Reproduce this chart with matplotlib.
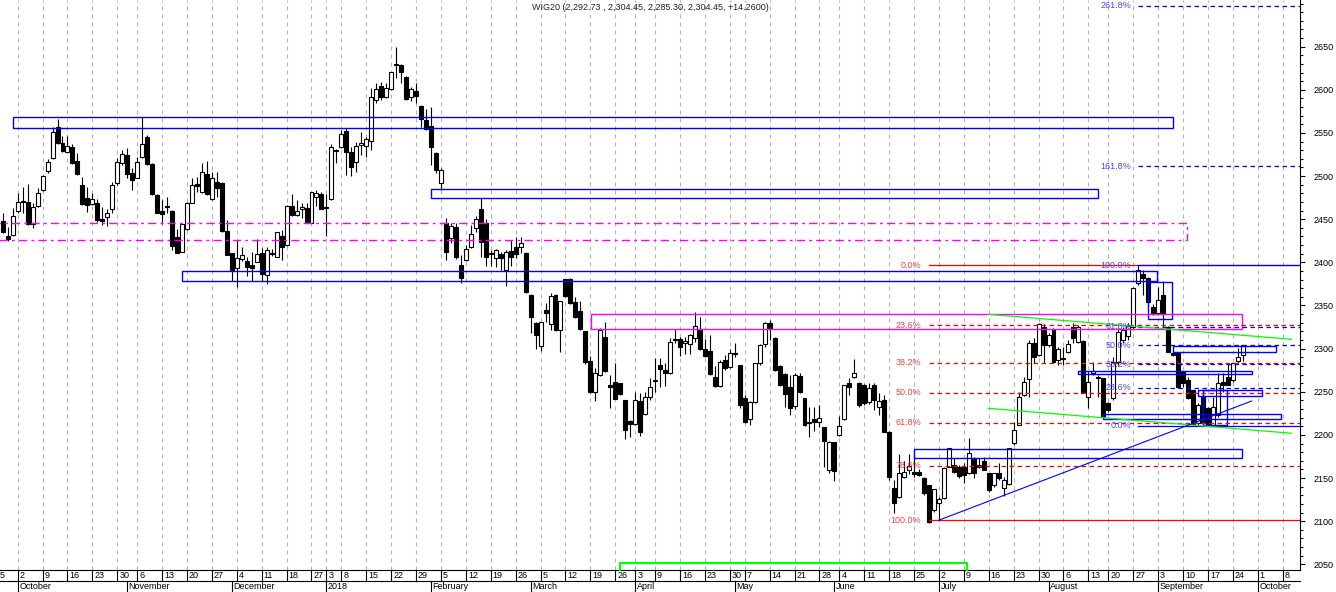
import numpy as np
import pandas as pd
import matplotlib
matplotlib.use("Agg")
import matplotlib.pyplot as plt
import matplotlib.transforms as mtransforms
from matplotlib.patches import Rectangle
from matplotlib.lines import Line2D
from matplotlib.ticker import FixedLocator, MultipleLocator

plt.rcParams['font.family'] = ['Liberation Sans', 'DejaVu Sans']

# --- dane ---
first_day = '2017-09-27'
holidays = ['2017-11-01', '2017-12-25', '2017-12-26', '2018-01-01', '2018-01-02',
            '2018-03-30', '2018-04-02', '2018-05-01', '2018-05-03', '2018-05-31',
            '2018-08-15']

opens = [2447.9, 2430.6, 2431.3, 2459.5, 2471.0, 2469.6, 2444.5, 2465.7, 2483.5, 2505.9,
         2520.6, 2556.5, 2538.0, 2528.3, 2533.7, 2517.5, 2489.7, 2474.2, 2467.3, 2468.4,
         2450.3, 2452.2, 2462.2, 2491.6, 2514.8, 2524.4, 2503.6, 2498.2, 2521.7, 2545.7,
         2513.6, 2478.1, 2459.5, 2464.2, 2459.9, 2429.0, 2412.4, 2438.3, 2469.2, 2490.9,
         2482.0, 2502.4, 2473.0, 2493.6, 2491.6, 2436.3, 2410.5, 2393.1, 2403.5, 2401.6,
         2396.9, 2400.8, 2410.5, 2385.4, 2410.0, 2406.6, 2430.9, 2420.1, 2465.3, 2454.9,
         2461.5, 2462.6, 2446.0, 2476.2, 2478.9, 2463.5, 2473.0, 2530.3, 2534.1, 2552.3,
         2528.3, 2516.7, 2536.0, 2534.9, 2541.1, 2588.2, 2604.4, 2592.1, 2600.6, 2630.0,
         2628.8, 2615.3, 2592.1, 2599.0, 2581.3, 2565.0, 2558.0, 2526.4, 2492.4, 2445.3,
         2427.9, 2441.4, 2397.0, 2402.8, 2418.2, 2439.5, 2461.9, 2445.3, 2411.3, 2404.7,
         2409.7, 2391.2, 2413.2, 2417.4, 2417.4, 2411.3, 2362.2, 2329.3, 2303.5, 2344.8,
         2328.2, 2362.2, 2321.6, 2380.3, 2380.3, 2353.7, 2343.6, 2320.5, 2285.7, 2250.1,
         2269.4, 2313.9, 2257.9, 2261.7, 2259.8, 2240.5, 2216.1, 2212.3, 2239.3, 2223.8,
         2244.0, 2263.0, 2281.0, 2275.2, 2271.4, 2310.8, 2310.8, 2306.9, 2305.4, 2312.0,
         2322.4, 2299.2, 2297.3, 2267.5, 2257.1, 2286.8, 2278.3, 2294.6, 2281.0, 2242.4,
         2218.5, 2237.8, 2283.0, 2305.4, 2329.3, 2312.7, 2279.9, 2270.6, 2255.9, 2233.5,
         2268.3, 2242.4, 2214.6, 2218.1, 2215.4, 2208.8, 2159.3, 2191.4, 2199.9, 2218.0,
         2259.8, 2267.5, 2260.6, 2257.5, 2238.5, 2257.9, 2232.7, 2240.5, 2203.7, 2138.0,
         2128.4, 2151.6, 2159.3, 2157.4, 2157.4, 2149.7, 2141.9, 2112.9, 2120.7, 2126.5,
         2163.2, 2165.1, 2163.2, 2163.2, 2155.4, 2172.8, 2165.1, 2169.7, 2155.4, 2141.9,
         2155.4, 2138.0, 2143.0, 2190.2, 2211.5, 2246.0, 2264.4, 2306.1, 2292.6, 2325.5,
         2304.2, 2321.6, 2286.8, 2287.6, 2296.5, 2325.5, 2308.1, 2309.2, 2244.3, 2271.4,
         2267.5, 2265.6, 2237.4, 2242.4, 2285.0, 2310.0, 2315.0, 2325.5, 2375.7, 2387.0,
         2382.0, 2348.6, 2341.0, 2362.2, 2325.5, 2294.6, 2294.6, 2273.3, 2263.6, 2252.1,
         2213.4, 2244.3, 2230.8, 2211.5, 2223.1, 2261.7, 2267.5, 2263.6, 2285.7, 2292.73]
highs = [2456.8, 2441.4, 2462.6, 2480.8, 2487.8, 2490.5, 2468.4, 2485.8, 2501.3, 2519.4,
         2556.9, 2566.2, 2546.5, 2546.5, 2537.2, 2526.4, 2499.4, 2487.8, 2480.0, 2473.5,
         2464.6, 2461.5, 2492.8, 2520.6, 2530.3, 2532.2, 2509.0, 2522.5, 2568.1, 2547.6,
         2514.8, 2478.9, 2472.3, 2476.2, 2460.5, 2438.3, 2445.0, 2470.3, 2497.4, 2499.4,
         2514.8, 2517.9, 2505.2, 2505.2, 2493.6, 2449.1, 2411.0, 2425.9, 2418.2, 2406.6,
         2411.6, 2426.7, 2416.3, 2417.4, 2415.0, 2435.3, 2437.5, 2466.2, 2478.9, 2472.3,
         2468.4, 2468.4, 2481.6, 2483.9, 2481.6, 2478.9, 2537.2, 2531.0, 2553.4, 2555.4,
         2534.1, 2539.9, 2550.7, 2545.7, 2601.7, 2607.5, 2609.5, 2607.5, 2621.0, 2650.0,
         2629.5, 2616.0, 2603.7, 2607.5, 2582.0, 2577.4, 2580.5, 2528.3, 2509.8, 2451.0,
         2445.3, 2446.0, 2408.5, 2420.1, 2443.3, 2453.8, 2474.2, 2449.9, 2414.3, 2415.1,
         2412.4, 2414.3, 2425.9, 2429.8, 2429.8, 2412.0, 2363.0, 2331.3, 2331.3, 2352.5,
         2364.1, 2363.0, 2355.6, 2381.0, 2381.5, 2360.2, 2355.2, 2321.0, 2291.9, 2277.2,
         2323.5, 2330.5, 2269.4, 2283.0, 2260.6, 2241.0, 2216.8, 2250.1, 2248.2, 2249.4,
         2265.6, 2288.8, 2288.8, 2283.0, 2312.0, 2322.4, 2313.9, 2313.9, 2317.0, 2342.9,
         2337.1, 2310.8, 2315.8, 2280.3, 2286.8, 2292.6, 2299.2, 2306.1, 2281.5, 2246.3,
         2239.7, 2283.5, 2305.5, 2331.3, 2333.2, 2313.2, 2281.0, 2271.4, 2269.4, 2271.4,
         2271.4, 2243.0, 2232.7, 2232.7, 2234.7, 2209.5, 2192.8, 2192.0, 2221.9, 2258.3,
         2265.6, 2287.6, 2261.7, 2259.0, 2260.0, 2259.8, 2248.2, 2246.3, 2204.5, 2147.7,
         2177.9, 2169.5, 2177.9, 2177.9, 2161.0, 2151.6, 2142.5, 2137.5, 2128.4, 2163.2,
         2185.0, 2172.8, 2165.1, 2167.0, 2196.0, 2174.8, 2172.8, 2174.8, 2156.0, 2156.0,
         2167.0, 2151.6, 2185.0, 2215.4, 2250.1, 2267.5, 2310.0, 2312.0, 2329.5, 2328.6,
         2317.7, 2323.5, 2302.3, 2302.3, 2310.0, 2329.4, 2327.0, 2309.8, 2274.1, 2284.9,
         2269.4, 2266.2, 2238.5, 2290.7, 2323.5, 2325.0, 2330.0, 2372.0, 2396.6, 2391.0,
         2383.0, 2352.0, 2371.0, 2378.4, 2326.0, 2296.5, 2296.5, 2273.8, 2267.5, 2252.5,
         2236.6, 2252.1, 2232.7, 2244.3, 2271.4, 2271.4, 2283.0, 2283.8, 2300.4, 2304.45]
lows = [2433.6, 2425.2, 2431.0, 2456.8, 2456.8, 2443.3, 2440.2, 2464.6, 2482.7, 2504.0,
        2519.4, 2537.2, 2527.5, 2527.5, 2514.0, 2501.3, 2466.5, 2458.8, 2466.5, 2447.2,
        2443.3, 2442.6, 2456.8, 2489.7, 2512.9, 2497.4, 2483.9, 2497.4, 2520.6, 2512.9,
        2478.1, 2456.8, 2444.5, 2456.8, 2414.0, 2410.8, 2411.6, 2437.5, 2468.4, 2482.0,
        2480.8, 2478.1, 2472.3, 2476.2, 2435.6, 2408.0, 2378.4, 2371.8, 2402.0, 2384.2,
        2378.4, 2400.0, 2378.8, 2374.9, 2407.4, 2405.8, 2402.7, 2419.4, 2453.7, 2454.1,
        2451.0, 2445.2, 2445.2, 2465.3, 2461.5, 2431.0, 2472.3, 2514.8, 2532.2, 2501.3,
        2500.5, 2505.2, 2524.4, 2522.5, 2530.3, 2585.1, 2588.2, 2590.9, 2599.8, 2614.1,
        2607.5, 2588.2, 2587.4, 2584.3, 2557.3, 2553.4, 2512.9, 2504.0, 2483.9, 2402.8,
        2422.1, 2403.5, 2376.5, 2401.6, 2416.3, 2435.6, 2406.6, 2395.8, 2395.8, 2395.0,
        2391.2, 2373.0, 2395.8, 2404.7, 2410.5, 2364.9, 2317.7, 2299.2, 2297.7, 2331.3,
        2321.6, 2321.0, 2296.5, 2360.2, 2352.0, 2335.1, 2321.6, 2282.2, 2249.0, 2239.7,
        2268.7, 2273.3, 2231.6, 2241.2, 2246.3, 2194.9, 2198.0, 2211.5, 2199.1, 2223.0,
        2240.5, 2250.1, 2255.9, 2256.7, 2270.2, 2306.1, 2291.9, 2293.8, 2293.8, 2308.1,
        2298.4, 2290.7, 2269.4, 2255.2, 2255.9, 2275.2, 2277.2, 2290.7, 2230.8, 2213.4,
        2211.5, 2236.6, 2281.0, 2301.5, 2310.0, 2274.1, 2257.1, 2232.0, 2223.1, 2229.6,
        2248.2, 2210.3, 2198.0, 2205.0, 2209.5, 2163.2, 2155.4, 2146.9, 2198.7, 2217.3,
        2246.3, 2265.6, 2232.0, 2235.0, 2236.0, 2228.9, 2223.1, 2203.0, 2147.7, 2109.8,
        2127.2, 2150.0, 2155.0, 2151.6, 2152.0, 2130.3, 2098.3, 2111.0, 2101.4, 2126.0,
        2162.4, 2156.2, 2149.7, 2144.6, 2155.0, 2149.7, 2162.0, 2159.0, 2134.2, 2140.0,
        2147.7, 2129.2, 2141.9, 2188.3, 2211.0, 2245.0, 2244.3, 2283.8, 2291.0, 2283.0,
        2302.3, 2283.8, 2281.0, 2281.0, 2294.6, 2306.1, 2306.0, 2248.0, 2230.8, 2269.4,
        2244.3, 2219.2, 2227.0, 2240.5, 2281.0, 2306.0, 2310.0, 2323.0, 2374.0, 2362.0,
        2352.0, 2338.5, 2339.0, 2323.0, 2296.5, 2291.5, 2254.0, 2256.0, 2241.6, 2211.5,
        2211.5, 2212.7, 2210.3, 2210.7, 2221.2, 2250.0, 2257.5, 2261.7, 2283.0, 2285.30]
closes = [2434.8, 2426.7, 2453.7, 2470.3, 2469.6, 2444.5, 2463.8, 2480.0, 2500.1, 2515.9,
          2551.5, 2538.0, 2529.0, 2534.9, 2514.8, 2502.0, 2468.0, 2466.5, 2473.0, 2448.7,
          2448.3, 2456.8, 2489.3, 2516.7, 2525.2, 2502.0, 2495.1, 2516.0, 2537.2, 2514.0,
          2478.9, 2457.6, 2455.7, 2465.0, 2419.3, 2411.2, 2444.5, 2468.4, 2489.7, 2489.0,
          2504.4, 2479.2, 2497.4, 2486.6, 2436.7, 2408.5, 2391.1, 2404.7, 2408.5, 2395.0,
          2393.8, 2409.3, 2386.5, 2414.3, 2411.0, 2434.8, 2417.4, 2465.7, 2454.9, 2459.5,
          2463.8, 2446.0, 2481.2, 2480.8, 2461.9, 2464.5, 2534.1, 2529.0, 2548.4, 2528.3,
          2510.9, 2534.9, 2538.7, 2542.6, 2591.3, 2600.6, 2591.3, 2601.7, 2620.3, 2628.8,
          2621.0, 2589.0, 2600.6, 2592.8, 2565.8, 2554.2, 2534.1, 2507.0, 2507.0, 2412.4,
          2442.2, 2406.6, 2382.3, 2415.1, 2432.5, 2449.9, 2424.0, 2406.6, 2409.3, 2414.3,
          2405.5, 2412.4, 2406.6, 2409.3, 2422.1, 2365.5, 2336.3, 2315.8, 2330.5, 2340.9,
          2361.0, 2321.6, 2355.2, 2361.0, 2352.5, 2337.1, 2322.4, 2284.9, 2249.4, 2272.1,
          2321.6, 2274.5, 2255.9, 2241.6, 2247.0, 2205.7, 2212.3, 2240.5, 2203.0, 2244.3,
          2255.2, 2264.0, 2276.0, 2272.1, 2307.3, 2310.0, 2302.3, 2308.8, 2315.8, 2326.3,
          2299.2, 2291.9, 2270.2, 2257.1, 2284.9, 2277.2, 2294.6, 2293.4, 2234.7, 2215.4,
          2238.5, 2283.0, 2304.2, 2330.1, 2322.4, 2275.2, 2257.9, 2247.0, 2230.8, 2269.4,
          2249.4, 2211.5, 2213.4, 2214.6, 2219.2, 2192.9, 2192.2, 2158.5, 2210.7, 2257.8,
          2255.9, 2271.4, 2234.7, 2237.0, 2254.0, 2240.5, 2239.3, 2203.7, 2151.6, 2121.4,
          2155.4, 2157.4, 2164.3, 2154.3, 2153.5, 2133.0, 2099.4, 2136.9, 2125.3, 2162.0,
          2184.4, 2157.4, 2152.4, 2153.5, 2178.6, 2155.4, 2163.2, 2159.3, 2136.1, 2155.4,
          2149.7, 2147.7, 2184.4, 2205.7, 2244.3, 2261.0, 2306.1, 2290.7, 2328.6, 2304.2,
          2315.8, 2284.9, 2299.2, 2289.5, 2305.0, 2312.0, 2325.5, 2248.2, 2261.7, 2274.5,
          2266.3, 2221.2, 2228.9, 2284.9, 2319.7, 2321.6, 2326.0, 2370.0, 2391.2, 2382.0,
          2354.4, 2341.0, 2356.0, 2340.0, 2296.5, 2292.6, 2256.0, 2259.8, 2242.4, 2212.7,
          2234.7, 2213.4, 2211.5, 2232.7, 2259.8, 2257.9, 2257.9, 2283.0, 2290.2, 2304.45]

title = "WIG20 (2,292.73 , 2,304.45, 2,285.30, 2,304.45, +14.2600)"

# strefy (pozycja sesji od 27.09.2017, poziom)
blue_x0 = [2.1, 86.05, 36.05, 230.0, 235.0, 216.0, 240.1, 221.0, 241.0, 183.0]
blue_x1 = [234.9, 220.0, 231.7, 234.8, 255.7, 250.9, 252.9, 256.7, 245.9, 248.8]
blue_lo = [2555.8, 2474.3, 2378.4, 2334.0, 2295.7, 2270.3, 2244.7, 2218.4, 2211.0, 2172.7]
blue_hi = [2568.2, 2485.0, 2390.4, 2376.9, 2302.7, 2274.1, 2251.7, 2224.3, 2252.0, 2183.7]
pink_zone = (118.06, 248.9, 2322.8, 2340.2)
pink_dash_zone = (-20.0, 237.9, 2426.0, 2445.3)

red_fib = (186.0, 2396.6, 2101.0)
red_levels = [0.0, 23.6, 38.2, 50.0, 61.8, 78.6, 100.0]
blue_fib = (228.0, 2396.6, 2210.7)
blue_levels = [0.0, 23.6, 38.2, 50.0, 61.8, 100.0, 161.8, 261.8]

green_upper = ([197.9, 258.8], [2339.8, 2310.8])
green_lower = ([197.9, 258.8], [2230.8, 2201.9])
trend_line = ([187.9, 250.8], [2101.0, 2239.3])
green_bracket = (123.9, 193.6, 2052.0)

# --- kalendarz sesji ---
days = pd.bdate_range('2017-09-01', '2018-10-31')
days = days[~days.isin(pd.to_datetime(holidays))]
pos0 = days.get_loc(pd.Timestamp(first_day))
xpos = np.arange(len(days)) - pos0

x_left, x_right = -0.55, 260.5
y_low, y_high = 2043.4, 2704.1

W, H = 1336, 592
fig = plt.figure(figsize=(W / 100, H / 100), dpi=100)
ax = fig.add_axes([0, 22 / H, 1300 / W, 570 / H])
ax.set_xlim(x_left, x_right)
ax.set_ylim(y_low, y_high)

# tygodnie i miesiace
df = pd.DataFrame({'d': days, 'x': xpos})
df['wk'] = df['d'].dt.strftime('%G-%V')
df['mo'] = df['d'].dt.strftime('%Y-%m')
weeks = df.groupby('wk').first().reset_index()
months = df.groupby('mo').first().reset_index()
weeks = weeks[(weeks['x'] > x_left - 3) & (weeks['x'] < x_right)]
months = months[(months['x'] >= x_left) & (months['x'] < x_right)]

for xp in weeks['x']:
    if xp > x_left:
        ax.axvline(xp, color='#b4b4b4', lw=0.8, ls=(0, (3.6, 3.6)), zorder=0)

# swiece
o = np.array(opens)
h = np.array(highs)
l = np.array(lows)
c = np.array(closes)
x = np.arange(len(o))
up = c >= o
ax.vlines(x, l, h, color='black', lw=0.8, zorder=2)
ax.bar(x[up], (c - o)[up], bottom=o[up], width=0.8, color='white',
       edgecolor='black', linewidth=0.8, zorder=3)
ax.bar(x[~up], (o - c)[~up], bottom=c[~up], width=0.8, color='black',
       edgecolor='black', linewidth=0.8, zorder=3)

# strefy
for x0, x1, lo, hi in zip(blue_x0, blue_x1, blue_lo, blue_hi):
    ax.add_patch(Rectangle((x0, lo), x1 - x0, hi - lo, fill=False,
                           ec='#0000ff', lw=1.0, zorder=4))
x0, x1, lo, hi = pink_zone
ax.add_patch(Rectangle((x0, lo), x1 - x0, hi - lo, fill=False, ec='#ff00ff', lw=1.0, zorder=4))
x0, x1, lo, hi = pink_dash_zone
ax.add_patch(Rectangle((x0, lo), x1 - x0, hi - lo, fill=False, ec='#ff00ff', lw=1.0,
                       ls=(0, (6, 3, 2, 3)), zorder=4))

# Fibonacci
start, top, bot = red_fib
for lvl in red_levels:
    p = top - lvl / 100 * (top - bot)
    ls = '-' if lvl in (0.0, 100.0) else (0, (3.6, 2.8))
    ax.plot([start, x_right], [p, p], color='#ff0000', lw=0.9, ls=ls, zorder=4)
    ax.text(start - 1.6, p, f"{lvl:.1f}%", ha='right', va='center', fontsize=6.5,
            color='#ff4040', zorder=5)

start, top, bot = blue_fib
for lvl in blue_levels:
    p = bot + lvl / 100 * (top - bot)
    ls = '-' if lvl in (0.0, 100.0) else (0, (3.6, 2.8))
    ax.plot([start, x_right], [p, p], color='#0000ff', lw=0.9, ls=ls, zorder=4)
    ax.text(start - 1.4, p, f"{lvl:.1f}%", ha='right', va='center', fontsize=6.5,
            color='#4848ff', zorder=5)

# linie trendu
ax.plot(*green_upper, color='#00ff00', lw=0.9, zorder=4)
ax.plot(*green_lower, color='#00ff00', lw=0.9, zorder=4)
ax.plot(*trend_line, color='#0000ff', lw=0.8, zorder=4)
bx0, bx1, by = green_bracket
ax.plot([bx0, bx0, bx1, bx1], [y_low, by, by, y_low], color='#00ff00', lw=1.6,
        zorder=4, clip_on=False)

# osie
for s in ['top', 'left']:
    ax.spines[s].set_visible(False)
ax.spines['right'].set_linewidth(0.8)
ax.spines['bottom'].set_linewidth(0.8)
ax.yaxis.tick_right()
ax.yaxis.set_major_locator(FixedLocator(np.arange(2050, 2651, 50)))
ax.yaxis.set_minor_locator(MultipleLocator(10))
ax.tick_params(axis='y', which='major', length=3.5, width=0.8, pad=6, labelsize=6.5)
ax.tick_params(axis='y', which='minor', length=2.5, width=0.8)
ax.set_xticks([])

trans = mtransforms.blended_transform_factory(ax.transData, fig.transFigure)
row1_top, row1_bot, row2_bot = 22 / H, 11 / H, 0.0
for xp, d in zip(weeks['x'], weeks['d']):
    label = str(d.day)
    if xp < x_left:
        # tydzien zaczyna sie przed lewa krawedzia: widac tylko koncowke etykiety
        ax.text(x_left, (row1_top + row1_bot) / 2, label[-1], transform=trans,
                ha='left', va='center', fontsize=6.5, clip_on=False)
        continue
    ax.plot([xp, xp], [row1_bot, row1_top], transform=trans, color='black', lw=0.8,
            clip_on=False)
    ax.text(xp + 0.4, (row1_top + row1_bot) / 2, label, transform=trans,
            ha='left', va='center', fontsize=6.5, clip_on=False)
for xp, d in zip(months['x'], months['d']):
    ax.plot([xp, xp], [row2_bot, row1_bot], transform=trans, color='black', lw=0.8,
            clip_on=False)
    name = str(d.year) if d.month == 1 else d.strftime('%B')
    ax.text(xp + 0.3, (row1_bot + row2_bot) / 2, name, transform=trans,
            ha='left', va='center', fontsize=6.5, clip_on=False)
fig.add_artist(Line2D([0, 1300 / W], [row1_bot, row1_bot], color='black', lw=0.8))

fig.text(650 / W, 1 - 7 / H, title, ha='center', va='center', fontsize=6.5, color='#222222')

fig.savefig('out.png', dpi=100)
